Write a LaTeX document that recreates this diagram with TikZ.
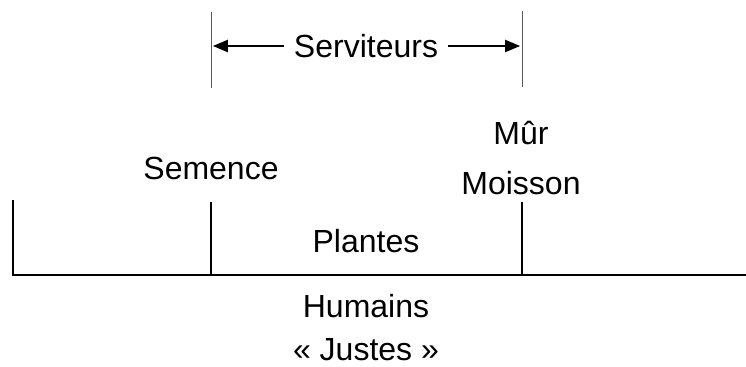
\documentclass[tikz,border=0pt]{standalone}
\usepackage{fontspec}
\setmainfont{Liberation Sans}
\usetikzlibrary{arrows,positioning}
\tikzset{>=triangle 45}
\tikzset{word/.style={font=\fontsize{16}{19}\selectfont,inner sep=1pt}}
\tikzset{axe/.style={line width=1pt,line cap=rect}}
\tikzset{repere/.style={line width=0.5pt,gray!70!black}}

\begin{document}
\begin{tikzpicture}[x=0.5pt,y=-0.5pt]
    \useasboundingbox (0,0) rectangle (746,366);
    % axe du bas
    \coordinate (o)  at (13,275);
    \coordinate (e)  at (746,275);
    \coordinate (s0) at (211,275);
    \coordinate (m0) at (522,275);
    \coordinate (o1) at (13,201);
    \coordinate (s1) at (211,203);
    \coordinate (m1) at (522,203);
    \draw[axe] (o) -- (e);
    \draw[axe] (o) -- (o1);
    \draw[axe] (s0) -- (s1);
    \draw[axe] (m0) -- (m1);
    % serviteurs
    \coordinate (sh) at (211,12);
    \coordinate (sb) at (211,88);
    \coordinate (mh) at (522,11);
    \coordinate (mb) at (522,87);
    \draw[repere] (sh) -- (sb);
    \draw[repere] (mh) -- (mb);
    \node[word] (serv) at (366,46) {Serviteurs};
    \coordinate (gauche) at (213,46);
    \coordinate (droite) at (520,46);
    \draw[->,line width=0.7pt] (serv.west) ++(-8,0) -- (gauche);
    \draw[->,line width=0.7pt] (serv.east) ++(8,0) -- (droite);
    % textes
    \node[word] (semence) at (211,168) {Semence};
    \node[word] (mur)     at (521,133) {Mûr};
    \node[word] (moisson) at (521,183) {Moisson};
    \node[word] (plantes) at (366,241) {Plantes};
    \node[word] (humains) at (366,306) {Humains};
    \node[word] (justes)  at (366,350) {« Justes »};
\end{tikzpicture}
\end{document}
